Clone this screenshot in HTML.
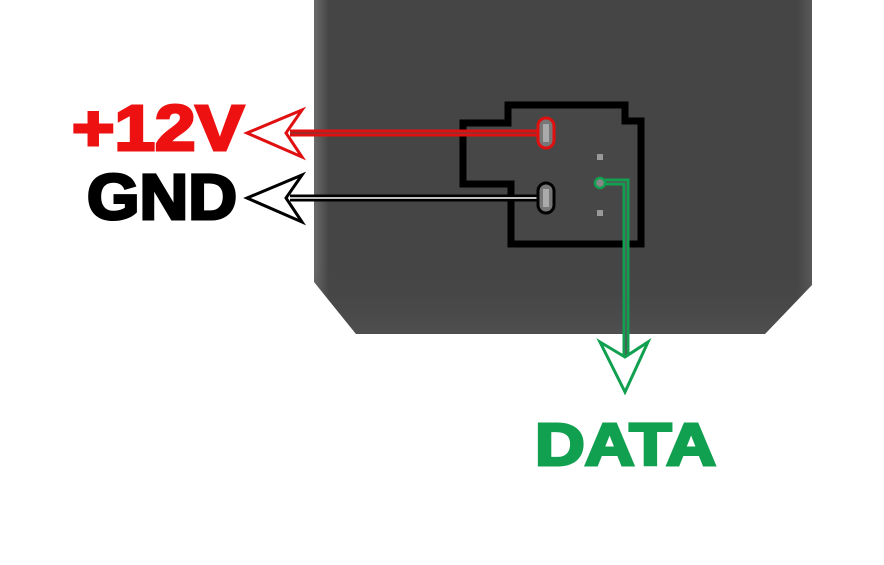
<!DOCTYPE html>
<html><head><style>
html,body{margin:0;padding:0;background:#fff;width:884px;height:565px;overflow:hidden}
</style></head><body>
<svg width="884" height="565" viewBox="0 0 884 565" xmlns="http://www.w3.org/2000/svg">
<defs>
<linearGradient id="lg" x1="0" x2="1" y1="0" y2="0">
<stop offset="0" stop-color="#6a6a6a"/><stop offset="0.03" stop-color="#454545"/><stop offset="0.97" stop-color="#454545"/><stop offset="1" stop-color="#5a5a5a"/>
</linearGradient>
<linearGradient id="vg" x1="0" x2="0" y1="0" y2="1">
<stop offset="0.8" stop-color="#454545" stop-opacity="0"/><stop offset="1" stop-color="#555" stop-opacity="0.6"/>
</linearGradient>
</defs>
<path d="M314 0 L812 0 L812 285 L765 334 L356 334 L314 282 Z" fill="url(#lg)"/>
<path d="M314 0 L812 0 L812 285 L765 334 L356 334 L314 282 Z" fill="url(#vg)"/>
<!-- connector outline -->
<path d="M508 105 L625 105 L625 121 L641 121 L641 244 L511 244 L511 184 L463 184 L463 123 L508 123 Z" fill="#474747" stroke="#000" stroke-width="7" stroke-linejoin="miter"/>
<rect x="597" y="154" width="6" height="6" fill="#999"/>
<rect x="597" y="210" width="6" height="6" fill="#999"/>
<!-- red -->
<line x1="290" y1="133" x2="538" y2="133" stroke="#e01010" stroke-width="7"/>
<line x1="290" y1="133" x2="538" y2="133" stroke="#883333" stroke-width="1.5"/>
<path d="M247 133 L302 110 L286 133 L302 157 Z" fill="#fff" stroke="#e01010" stroke-width="3" stroke-linejoin="miter"/>
<rect x="538" y="118" width="16" height="30" rx="8" fill="#777" stroke="#e01010" stroke-width="3"/>
<rect x="543" y="124" width="6" height="18" fill="#aaa"/>
<!-- black -->
<line x1="290" y1="198" x2="538" y2="198" stroke="#000" stroke-width="7"/>
<line x1="290" y1="198" x2="538" y2="198" stroke="#fff" stroke-width="1.5"/>
<path d="M247 198 L302 175 L286 198 L302 222 Z" fill="#fff" stroke="#000" stroke-width="3"/>
<rect x="538" y="183" width="16" height="30" rx="8" fill="#777" stroke="#000" stroke-width="3"/>
<rect x="543" y="189" width="6" height="18" fill="#aaa"/>
<!-- green -->
<path d="M605 182 L626 182 L626 362" fill="none" stroke="#10a050" stroke-width="7"/>
<path d="M605 182 L626 182 L626 362" fill="none" stroke="#555" stroke-width="1.5"/>
<circle cx="600" cy="183" r="5" fill="#888" stroke="#10a050" stroke-width="2.5"/>
<path d="M625 392 L600 342 L625 357 L648 342 Z" fill="#fff" stroke="#10a050" stroke-width="3"/>
<!-- labels -->
<text x="72" y="150" font-family="Liberation Sans, sans-serif" font-weight="bold" font-size="64" fill="#ee1111" stroke="#ee1111" stroke-width="3" textLength="172" lengthAdjust="spacingAndGlyphs">+12V</text>
<text x="87" y="219" font-family="Liberation Sans, sans-serif" font-weight="bold" font-size="64" fill="#000" stroke="#000" stroke-width="3" textLength="150" lengthAdjust="spacingAndGlyphs">GND</text>
<text x="535" y="465" font-family="Liberation Sans, sans-serif" font-weight="bold" font-size="59" fill="#10a050" stroke="#10a050" stroke-width="3" textLength="181" lengthAdjust="spacingAndGlyphs">DATA</text>
</svg>
</body></html>
